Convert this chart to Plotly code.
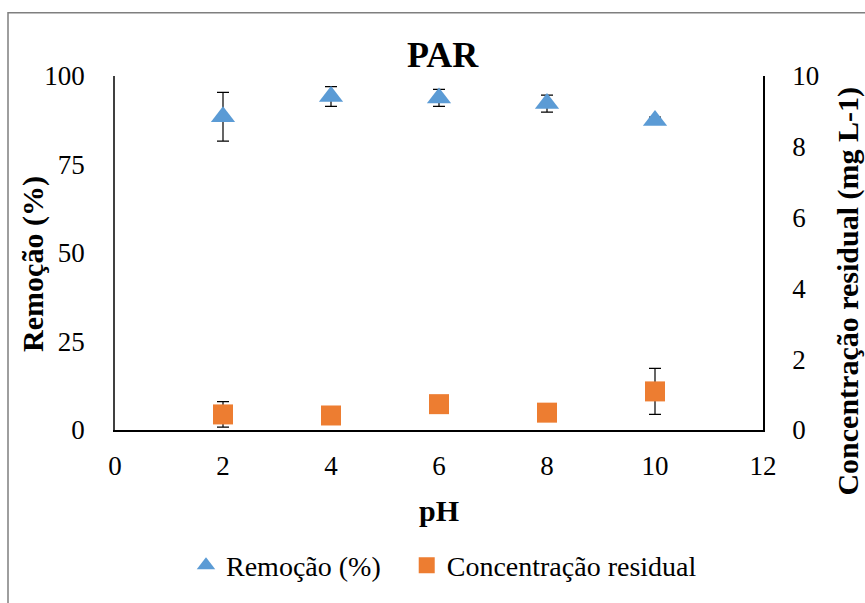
import plotly.graph_objects as go

ph = [2, 4, 6, 8, 10]
remocao = [88.5, 94.2, 93.8, 92.2, 87.4]
remocao_err = [6.9, 2.8, 2.4, 2.4, 1.0]
conc = [0.44, 0.41, 0.73, 0.49, 1.09]
conc_err = [0.36, 0.0, 0.0, 0.0, 0.65]
x_ticks = [0, 2, 4, 6, 8, 10, 12]
y1_ticks = [0, 25, 50, 75, 100]
y2_ticks = [0, 2, 4, 6, 8, 10]

W, H = 865, 603
L, R, T, B = 115, 763, 76, 434
PW, PH = R - L, B - T


def px_x(px):
    return (px - L) / PW


def px_y(py):
    return (B - py) / PH


FF = "Liberation Serif"
NBSP = "\u00a0"

fig = go.Figure()
fig.add_trace(go.Scatter(
    x=ph, y=remocao, mode="markers", name="Remoção (%)" + NBSP * 3,
    marker=dict(symbol="triangle-up", size=21, color="#5B9BD5"),
    error_y=dict(type="data", array=remocao_err, visible=True, color="black", thickness=1.2, width=6),
))
fig.add_trace(go.Scatter(
    x=ph, y=conc, mode="markers", name="Concentração residual", yaxis="y2",
    marker=dict(symbol="square", size=20, color="#ED7D31"),
    error_y=dict(type="data", array=conc_err, visible=True, color="black", thickness=1.2, width=6),
))

tick_font = dict(family=FF, size=27, color="black")

fig.update_layout(
    width=W, height=H,
    margin=dict(l=L, r=W - R, t=T, b=H - B),
    paper_bgcolor="white", plot_bgcolor="white",
    font=dict(family=FF, color="black"),
    xaxis=dict(range=[0, 12], tickvals=x_ticks, showgrid=False, zeroline=False,
               showline=True, linecolor="black", linewidth=1.5, ticks="",
               tickfont=tick_font, ticklabelstandoff=11),
    yaxis=dict(range=[0, 100], tickvals=y1_ticks, showgrid=False, zeroline=False,
               showline=True, linecolor="#404040", linewidth=1.5, ticks="",
               tickfont=tick_font, ticklabelstandoff=23),
    yaxis2=dict(range=[0, 10], tickvals=y2_ticks, overlaying="y", side="right",
                showgrid=False, zeroline=False, showline=True, linecolor="black", linewidth=1.5,
                ticks="", tickfont=tick_font, ticklabelstandoff=22),
    legend=dict(orientation="h", x=px_x(444), xanchor="center", y=px_y(571), yanchor="middle",
                font=dict(family=FF, size=28, color="black"),
                itemsizing="trace", itemwidth=30, bgcolor="rgba(0,0,0,0)"),
    showlegend=True,
)

annots = [
    dict(text="<b>PAR</b>", x=px_x(443), y=px_y(55), size=36, angle=0),
    dict(text="<b>pH</b>", x=px_x(439), y=px_y(515), size=30, angle=0),
    dict(text="<b>Remoção (%)</b>", x=px_x(33), y=px_y(266), size=30, angle=-90),
    dict(text="<b>Concentração residual (mg L-1)</b>", x=px_x(848), y=px_y(294), size=30, angle=-90),
]
for a in annots:
    fig.add_annotation(text=a["text"], x=a["x"], y=a["y"], xref="paper", yref="paper",
                       xanchor="center", yanchor="middle", showarrow=False, textangle=a["angle"],
                       font=dict(family=FF, size=a["size"], color="black"))

# outer chart border (Excel style)
fig.add_shape(type="rect", xref="paper", yref="paper",
              x0=px_x(8), x1=px_x(875), y0=px_y(615), y1=px_y(12),
              line=dict(color="#7f7f7f", width=1.5), fillcolor="rgba(0,0,0,0)", layer="below")

fig.write_html("out.html")
